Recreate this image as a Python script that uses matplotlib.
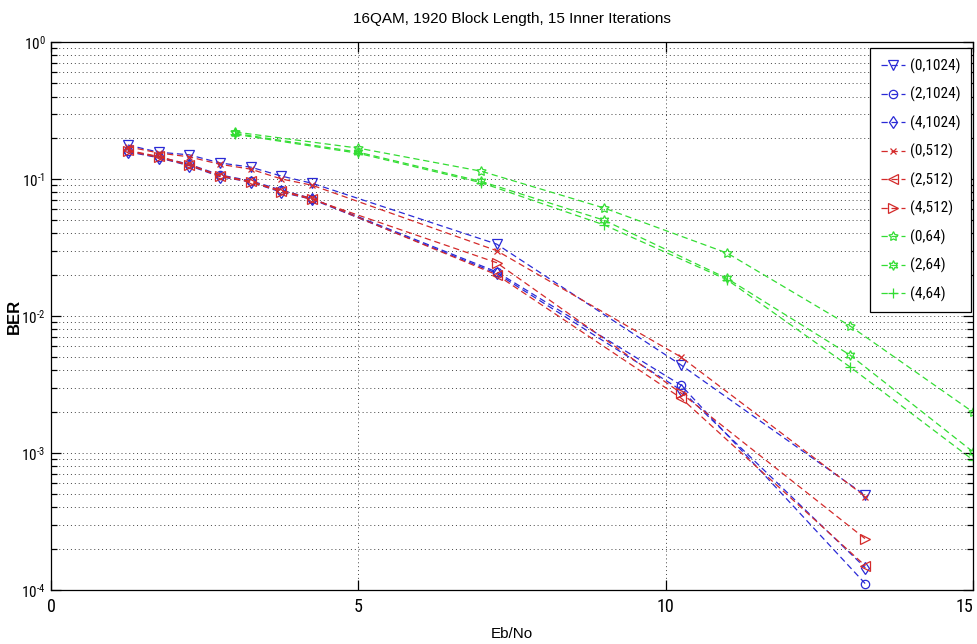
import math
import matplotlib
matplotlib.use("Agg")
import matplotlib.pyplot as plt
from matplotlib import font_manager as fm
from matplotlib.ticker import FixedLocator, LogLocator, FuncFormatter, NullFormatter

# ---------------- data ----------------
x_main = [1.25, 1.75, 2.25, 2.75, 3.25, 3.75, 4.25, 7.25, 10.25, 13.25]
x_64 = [3, 5, 7, 9, 11, 13, 15]

ber_0_1024 = [0.177, 0.157, 0.150, 0.131, 0.122, 0.105, 0.093, 0.0335, 0.00439, 0.00049]
ber_2_1024 = [0.160, 0.145, 0.128, 0.107, 0.097, 0.083, 0.072, 0.0210, 0.00313, 0.000111]
ber_4_1024 = [0.158, 0.143, 0.125, 0.104, 0.095, 0.080, 0.071, 0.0205, 0.00288, 0.000145]
ber_0_512 = [0.172, 0.155, 0.145, 0.128, 0.118, 0.100, 0.090, 0.0300, 0.00502, 0.00048]
ber_2_512 = [0.162, 0.146, 0.127, 0.106, 0.096, 0.082, 0.072, 0.0200, 0.00252, 0.000150]
ber_4_512 = [0.160, 0.144, 0.126, 0.105, 0.095, 0.081, 0.071, 0.0245, 0.00274, 0.000236]
ber_0_64 = [0.220, 0.168, 0.114, 0.0614, 0.0288, 0.00846, 0.00199]
ber_2_64 = [0.215, 0.157, 0.096, 0.0500, 0.0188, 0.00519, 0.00102]
ber_4_64 = [0.212, 0.154, 0.094, 0.0462, 0.0184, 0.00425, 0.00089]

labels = ["(0,1024)", "(2,1024)", "(4,1024)", "(0,512)", "(2,512)", "(4,512)",
          "(0,64)", "(2,64)", "(4,64)"]
x_ticks = [0, 5, 10, 15]
title = "16QAM, 1920 Block Length, 15 Inner Iterations"

# ---------------- fonts ----------------
names = {f.name for f in fm.fontManager.ttflist}
narrow = None
for cand in ["Liberation Sans Narrow", "DejaVu Sans Condensed", "Roboto Condensed", "Open Sans Condensed"]:
    if cand in names:
        narrow = cand
        break
if narrow is None:
    narrow = "Liberation Sans"
arial = "Liberation Sans" if "Liberation Sans" in names else "DejaVu Sans"

plt.rcParams["font.family"] = [arial, "DejaVu Sans"]
plt.rcParams["mathtext.fontset"] = "custom"
plt.rcParams["mathtext.rm"] = narrow
plt.rcParams["mathtext.it"] = narrow
plt.rcParams["mathtext.default"] = "rm"

BLUE = "#2a2ad6"
RED = "#d42a2a"
GREEN = "#33dd33"

fig = plt.figure(figsize=(9.78, 6.44), dpi=100)
ax = fig.add_axes([0.0521, 0.0839, 0.9427, 0.8509])

series = [
    (x_main, ber_0_1024, BLUE, "v", 7),
    (x_main, ber_2_1024, BLUE, "o", 6),
    (x_main, ber_4_1024, BLUE, "d", 6),
    (x_main, ber_0_512, RED, "x", 5),
    (x_main, ber_2_512, RED, "<", 7),
    (x_main, ber_4_512, RED, ">", 7),
    (x_64, ber_0_64, GREEN, (5, 1, 0), 7),
    (x_64, ber_2_64, GREEN, (6, 1, 0), 7),
    (x_64, ber_4_64, GREEN, "+", 7),
]
for (xs, ys, c, m, ms), lab in zip(series, labels):
    ax.plot(xs, ys, linestyle=(0, (5, 3)), color=c, linewidth=0.9,
            marker=m, markersize=ms, markerfacecolor="none",
            markeredgecolor=c, markeredgewidth=0.9, label=lab)

ax.set_yscale("log")
ax.set_ylim(1e-4, 1)
ax.set_xlim(0, 15)
ax.xaxis.set_major_locator(FixedLocator(x_ticks))
ax.yaxis.set_major_locator(LogLocator(base=10, numticks=10))
ax.yaxis.set_minor_locator(LogLocator(base=10, subs=range(2, 10), numticks=20))
ax.yaxis.set_minor_formatter(NullFormatter())


def yfmt(v, p):
    e = int(round(math.log10(v)))
    if e < 0:
        return r"$10^{\text{-}%d}$" % (-e)
    return r"$10^{%d}$" % e


ax.yaxis.set_major_formatter(FuncFormatter(yfmt))

ax.grid(True, which="major", axis="both", color="#444444", linestyle=(0, (1, 3)), linewidth=0.7)
ax.grid(True, which="minor", axis="y", color="#444444", linestyle=(0, (1, 3)), linewidth=0.7)

ax.tick_params(which="both", direction="in", top=True, right=True)
ax.tick_params(which="major", length=7, width=0.9, pad=5)
ax.tick_params(axis="y", which="major", labelsize=11, pad=4)
ax.tick_params(axis="x", which="major", labelsize=13, pad=6)
ax.tick_params(which="minor", length=4, width=0.9)
fig.canvas.draw()
xl = ax.get_xticklabels()
for lab in xl:
    lab.set_fontfamily([narrow, "DejaVu Sans"])
xl[-1].set_horizontalalignment("right")
for sp in ax.spines.values():
    sp.set_linewidth(0.9)

ax.set_title(title, fontsize=11, pad=14)
ax.set_xlabel("Eb/No", fontsize=11, labelpad=8)
ax.set_ylabel("BER", fontsize=12, fontweight="bold")
ax.yaxis.set_label_coords(-0.031, 0.5)

leg = ax.legend(loc="upper right", bbox_to_anchor=(1 - 2 / 922, 1 - 6 / 548),
                frameon=True, fancybox=False,
                edgecolor="black", framealpha=1, borderaxespad=0.0,
                handlelength=1.6, handletextpad=0.3, labelspacing=0.86,
                borderpad=0.7, prop={"family": [narrow, "DejaVu Sans"], "size": 11})
leg.get_frame().set_linewidth(0.9)

fig.savefig("out.png", dpi=100)
